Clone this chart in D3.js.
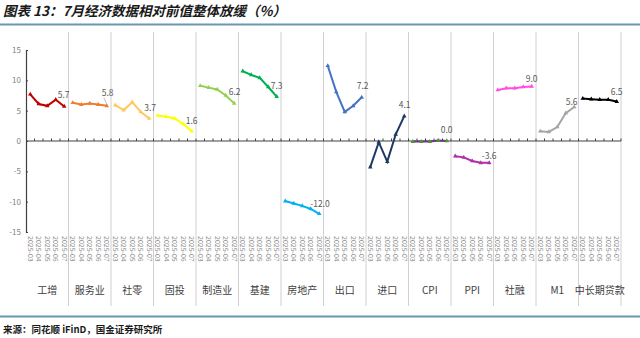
<!DOCTYPE html>
<html>
<head>
<meta charset="utf-8">
<script src="https://cdn.jsdelivr.net/npm/d3@7"></script>
<style>
  body { margin: 0; background: #fff; }
  svg { display: block; }
</style>
</head>
<body>
<div id="chart"></div>
<script>
////// DATA
var groups = ["工增", "服务业", "社零", "固投", "制造业", "基建", "房地产", "出口", "进口", "CPI", "PPI", "社融", "M1", "中长期贷款"];
var months = ["2025-03", "2025-04", "2025-05", "2025-06", "2025-07"];

var gyzz = [7.7, 6.1, 5.8, 6.8, 5.7];
var fwy = [6.3, 6.0, 6.2, 6.0, 5.8];
var sl = [5.9, 5.1, 6.4, 4.8, 3.7];
var gt = [4.2, 4.0, 3.7, 2.8, 1.6];
var zzy = [9.1, 8.8, 8.5, 7.5, 6.2];
var jj = [11.5, 10.9, 10.4, 8.9, 7.3];
var fdc = [-9.9, -10.3, -10.7, -11.2, -12.0];
var ck = [12.4, 8.1, 4.8, 5.8, 7.2];
var jk = [-4.3, -0.2, -3.4, 1.1, 4.1];
var cpi = [-0.1, -0.1, -0.1, 0.1, 0.0];
var ppi = [-2.5, -2.7, -3.3, -3.6, -3.6];
var shrz = [8.4, 8.7, 8.7, 8.9, 9.0];
var m1 = [1.6, 1.5, 2.3, 4.6, 5.6];
var zcqdk = [7.0, 6.9, 6.8, 6.8, 6.5];

var seriesValues = [gyzz, fwy, sl, gt, zzy, jj, fdc, ck, jk, cpi, ppi, shrz, m1, zcqdk];
var lineColors = ["#c00000", "#ed7d31", "#ffc85a", "#ffff00", "#92d050", "#00b050", "#00b0f0",
                  "#4472c4", "#1f3864", "#7030a0", "#b02fa8", "#ff4fe0", "#a5a5a5", "#000000"];
var markerColors = lineColors.slice();
markerColors[9] = "#4f9a1f";
var yTicks = [-15, -10, -5, 0, 5, 10, 15];

////// SETUP SVG
var width = 640, height = 338;
var svg = d3.select("#chart").append("svg")
    .attr("width", width)
    .attr("height", height)
    .style("font-family", "'Noto Sans CJK SC', 'Noto Sans', sans-serif");

// Title and rules
svg.append("text")
    .attr("x", 3).attr("y", 16)
    .attr("font-size", 13.5).attr("font-weight", "bold").attr("font-style", "italic")
    .attr("fill", "#1a1a1a")
    .text("图表 13：7月经济数据相对前值整体放缓（%）");

svg.append("line")
    .attr("x1", 0).attr("x2", width).attr("y1", 24.5).attr("y2", 24.5)
    .attr("stroke", "#6a98b0").attr("stroke-width", 2);
svg.append("line")
    .attr("x1", 0).attr("x2", width).attr("y1", 316.5).attr("y2", 316.5)
    .attr("stroke", "#6a98b0").attr("stroke-width", 2);

svg.append("text")
    .attr("x", 3).attr("y", 333)
    .attr("font-size", 9.5).attr("font-weight", "bold")
    .attr("fill", "#1a1a1a")
    .text("来源：同花顺 iFinD，国金证券研究所");

////// SCALES
var x0 = d3.scaleBand()
    .domain(groups)
    .range([26, 621]);
var x1 = d3.scaleBand()
    .domain(months)
    .range([0, x0.bandwidth()]);
var y = d3.scaleLinear()
    .domain([-15, 15])
    .range([232, 50]);

////// SEPARATORS
svg.append("g").selectAll("line")
    .data(groups)
    .enter().append("line")
    .attr("x1", function(d) { return x0(d) + x0.bandwidth(); })
    .attr("x2", function(d) { return x0(d) + x0.bandwidth(); })
    .attr("y1", 32).attr("y2", 306)
    .attr("stroke", "#d0d0d0").attr("stroke-width", 1);

////// Y AXIS
var yAxis = svg.append("g")
    .attr("transform", "translate(26,0)")
    .call(d3.axisRight(y).tickValues(yTicks).tickSize(2).tickFormat(""));
yAxis.select(".domain").attr("stroke", "#404040").attr("stroke-width", 1.2);
yAxis.selectAll(".tick line").attr("stroke", "#404040");

svg.append("g").selectAll("text")
    .data(yTicks)
    .enter().append("text")
    .attr("x", 21)
    .attr("y", function(d) { return y(d) + 3; })
    .attr("text-anchor", "end")
    .attr("font-size", 8).attr("fill", "#7f7f7f")
    .text(function(d) { return d; });

////// X AXIS (zero line with ticks)
svg.append("line")
    .attr("x1", 26).attr("x2", 621)
    .attr("y1", y(0)).attr("y2", y(0))
    .attr("stroke", "#404040").attr("stroke-width", 1.2);

var cells = [];
groups.forEach(function(g) {
    months.forEach(function(m) { cells.push({ g: g, m: m }); });
});
svg.append("g").selectAll("line")
    .data(cells)
    .enter().append("line")
    .attr("x1", function(d) { return x0(d.g) + x1(d.m) + x1.bandwidth(); })
    .attr("x2", function(d) { return x0(d.g) + x1(d.m) + x1.bandwidth(); })
    .attr("y1", y(0) - 2.5).attr("y2", y(0))
    .attr("stroke", "#404040").attr("stroke-width", 1);

// Date labels
svg.append("g").selectAll("text")
    .data(cells)
    .enter().append("text")
    .attr("transform", function(d) {
        return "translate(" + (x0(d.g) + x1(d.m) + x1.bandwidth() / 2 - 2.5) + ",236) rotate(90)";
    })
    .attr("font-size", 7).attr("fill", "#8c8c8c")
    .text(function(d) { return d.m; });

// Category labels
svg.append("g").selectAll("text")
    .data(groups)
    .enter().append("text")
    .attr("x", function(d) { return x0(d) + x0.bandwidth() / 2; })
    .attr("y", 294)
    .attr("text-anchor", "middle")
    .attr("font-size", 10).attr("fill", "#404040")
    .text(function(d) { return d; });

////// LINES
var line = d3.line()
    .x(function(d) { return d.x; })
    .y(function(d) { return y(d.v); });

// label offset from the last point (text start, baseline)
var labelOffsets = [[-6.5, -8], [-5, -10], [-5, -8], [-6, -7], [-5.5, -8], [-6, -8], [-9, -7],
                    [-5, -8], [-5.5, -8], [-6, -8], [-7.5, -3.5], [-6, -4], [-8.5, -2.5], [-6, -7]];

groups.forEach(function(g, gi) {
    var pts = seriesValues[gi].map(function(v, i) {
        return { x: x0(g) + x1(months[i]) + x1.bandwidth() / 2, v: v };
    });
    var grp = svg.append("g");
    grp.append("path")
        .datum(pts)
        .attr("d", line)
        .attr("fill", "none")
        .attr("stroke", lineColors[gi])
        .attr("stroke-width", 2);
    grp.selectAll("path.mk")
        .data(pts)
        .enter().append("path")
        .attr("class", "mk")
        .attr("d", d3.symbol().type(d3.symbolTriangle).size(9))
        .attr("transform", function(d) { return "translate(" + d.x + "," + y(d.v) + ")"; })
        .attr("fill", markerColors[gi]);

    var last = pts[pts.length - 1];
    var off = labelOffsets[gi];
    grp.append("text")
        .attr("x", last.x + off[0])
        .attr("y", y(last.v) + off[1])
        .attr("font-size", 8.5).attr("fill", "#595959")
        .text(last.v.toFixed(1));
    if (gi === 1) {
        // leader line for the 服务业 label
        grp.append("line")
            .attr("x1", last.x - 3).attr("y1", y(last.v) - 8)
            .attr("x2", last.x).attr("y2", y(last.v) - 2)
            .attr("stroke", "#a0a0a0").attr("stroke-width", 0.7);
    }
});
</script>
</body>
</html>
